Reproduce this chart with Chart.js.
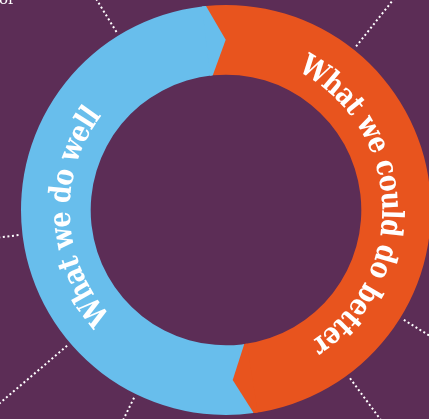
<!DOCTYPE html>
<html>
<head>
<meta charset="utf-8">
<script src="https://cdn.jsdelivr.net/npm/chart.js@4.4.0/dist/chart.umd.min.js"></script>
<style>
html, body { margin: 0; padding: 0; background: #5c2d56; overflow: hidden; }
#wrap { position: relative; width: 452px; height: 419px; }
</style>
</head>
<body>
<div id="wrap"><canvas id="ring" width="452" height="419"></canvas></div>
<script>
var labels = ["What we could do better", "What we do well"];
var values = [49.4, 50.6];
var colours = ["#e8541e", "#68beec"];
// dotted rays behind the ring, degrees clockwise from 12 o'clock
var rayAngles = [-31.6, 38.5, 121.7, 143.6, 206.1, 229.5, 263.1];

var rays = {
	id: 'rays',
	beforeDatasetsDraw: function(chart) {
		var ctx = chart.ctx;
		var arc = chart.getDatasetMeta(0).data[0];
		var r0 = arc.outerRadius + 4;
		ctx.save();
		ctx.strokeStyle = "#ffffff";
		ctx.lineWidth = 2;
		ctx.setLineDash([2, 2.6]);
		rayAngles.forEach(function(deg) {
			var a = (deg - 90) * Math.PI / 180;
			ctx.beginPath();
			ctx.moveTo(arc.x + r0 * Math.cos(a), arc.y + r0 * Math.sin(a));
			ctx.lineTo(arc.x + 420 * Math.cos(a), arc.y + 420 * Math.sin(a));
			ctx.stroke();
		});
		ctx.restore();

		// the cut-off "or" in the corner
		ctx.save();
		ctx.fillStyle = "#ffffff";
		ctx.font = '15px "DejaVu Serif"';
		ctx.textBaseline = 'alphabetic';
		ctx.fillText("or", -1, 4);
		ctx.restore();
	}
};

var arrows = {
	id: 'arrows',
	afterDatasetsDraw: function(chart) {
		var ctx = chart.ctx;
		var arcs = chart.getDatasetMeta(0).data;
		var d = 5.5 * Math.PI / 180, e = 0.02;

		// arrow heads pointing clockwise into the next segment
		arcs.forEach(function(arc, i) {
			var cx = arc.x, cy = arc.y;
			var ro = arc.outerRadius, ri = arc.innerRadius, rm = (ro + ri) / 2;
			var a = arc.endAngle;
			ctx.save();
			ctx.fillStyle = colours[i];
			ctx.beginPath();
			ctx.moveTo(cx + ro * Math.cos(a - e), cy + ro * Math.sin(a - e));
			ctx.lineTo(cx + ro * Math.cos(a), cy + ro * Math.sin(a));
			ctx.lineTo(cx + rm * Math.cos(a + d), cy + rm * Math.sin(a + d));
			ctx.lineTo(cx + ri * Math.cos(a), cy + ri * Math.sin(a));
			ctx.lineTo(cx + ri * Math.cos(a - e), cy + ri * Math.sin(a - e));
			ctx.closePath();
			ctx.fill();
			ctx.restore();
		});

		// curved labels, reading clockwise, tops outward
		ctx.save();
		ctx.fillStyle = "#ffffff";
		ctx.font = 'bold 30px "DejaVu Serif"';
		ctx.textAlign = 'center';
		ctx.textBaseline = 'alphabetic';
		var sx = 0.84;
		labels.forEach(function(txt, i) {
			var arc = arcs[i];
			var cx = arc.x, cy = arc.y;
			var rb = arc.innerRadius + 21;
			var rw = rb + 9;
			var mid = (arc.startAngle + arc.endAngle) / 2 + 4 * Math.PI / 180;
			var chars = txt.split('');
			var widths = chars.map(function(ch) { return ctx.measureText(ch).width * sx; });
			var total = widths.reduce(function(s, w) { return s + w; }, 0);
			var a = mid - total / 2 / rw;
			chars.forEach(function(ch, k) {
				var ac = a + widths[k] / 2 / rw;
				ctx.save();
				ctx.translate(cx + rb * Math.cos(ac), cy + rb * Math.sin(ac));
				ctx.rotate(ac + Math.PI / 2);
				ctx.scale(sx, 1);
				ctx.fillText(ch, 0, 0);
				ctx.restore();
				a += widths[k] / rw;
			});
		});
		ctx.restore();
	}
};

var ring = new Chart(document.getElementById("ring").getContext("2d"), {
	type: 'doughnut',
	data: {
		labels: labels,
		datasets: [{
			data: values,
			backgroundColor: colours,
			borderWidth: 0,
			hoverOffset: 0
		}]
	},
	options: {
		responsive: false,
		animation: false,
		events: [],
		cutout: '66%',
		rotation: -5.6,
		layout: { padding: { top: 5, bottom: 4, left: 0, right: 0 } },
		plugins: {
			legend: { display: false },
			tooltip: { enabled: false }
		}
	},
	plugins: [rays, arrows]
});
</script>
</body>
</html>
